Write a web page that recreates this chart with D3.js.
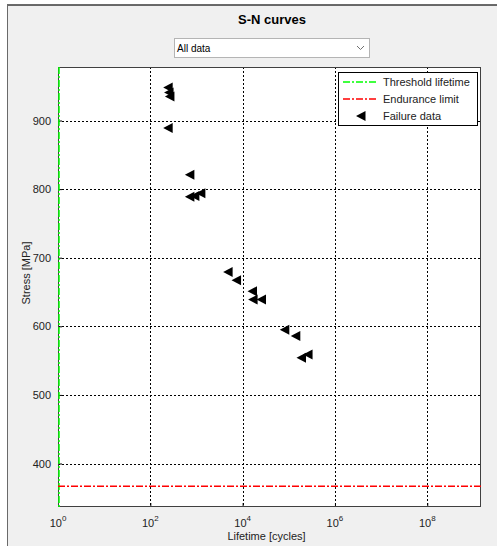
<!DOCTYPE html>
<html>
<head>
<meta charset="utf-8">
<script src="https://cdn.jsdelivr.net/npm/d3@7"></script>
<style>
  body { margin: 0; background: #fff; }
  svg { display: block; font-family: "Liberation Sans", Arial, sans-serif; }
</style>
</head>
<body>
<div class="sn-chart"></div>
<script>
// failure data
const lifetime = [244, 255, 266, 244, 720, 720, 923, 1245, 4855, 7380, 16370, 16870, 25650, 81900, 141800, 188500, 261600]
const stress = [948, 941, 935, 889, 821, 789, 790, 794, 679, 667, 651, 639, 639, 595, 586, 554, 559]

const thresholdLifetime = 1
const enduranceLimit = 367

const xTicks = [0, 2, 4, 6, 8]          // exponents of 10
const yTicks = [400, 500, 600, 700, 800, 900]
const legendLabels = ["Threshold lifetime", "Endurance limit", "Failure data"]

const W = 497, H = 546
const margin = {top: 67, right: 16, bottom: 39, left: 58},
    width = W - margin.left - margin.right,
    height = H - margin.top - margin.bottom;

const root = d3.select(".sn-chart")
    .append("svg")
        .attr("width", W)
        .attr("height", H)

// figure panel
root.append("rect")
    .attr("x", 7).attr("y", 5)
    .attr("width", W - 7).attr("height", H - 5)
    .attr("fill", "#f0f0f0")
root.append("line")
    .attr("x1", 7).attr("x2", W).attr("y1", 5).attr("y2", 5)
    .attr("stroke", "#3a3a3a").attr("stroke-width", 1.5)
root.append("line")
    .attr("x1", 7.5).attr("x2", 7.5).attr("y1", 5).attr("y2", H)
    .attr("stroke", "#6a6a6a")

root.append("text")
    .attr("x", 272).attr("y", 24)
    .attr("text-anchor", "middle")
    .attr("font-size", "13px")
    .attr("font-weight", "bold")
    .text("S-N curves")

// dropdown
const dd = root.append("g").attr("transform", "translate(174,38)")
dd.append("rect")
    .attr("x", 0.5).attr("y", 0.5).attr("width", 195).attr("height", 19)
    .attr("fill", "#fff").attr("stroke", "#b4b4b4")
dd.append("text")
    .attr("x", 3).attr("y", 14)
    .attr("font-size", "10px")
    .text("All data")
dd.append("path")
    .attr("d", "M183,8 L186.5,11.5 L190,8")
    .attr("fill", "none").attr("stroke", "#707070")

const svg = root.append("g")
    .attr("transform", "translate(" + margin.left + "," + margin.top + ")");

svg.append("rect")
    .attr("width", width).attr("height", height)
    .attr("fill", "#fff")

let x = d3.scaleLog()
    .domain([1, 1.46e9])
    .range([0, width])

let y = d3.scaleLinear()
    .domain([336.6, 978])
    .range([height, 0])

// grid
svg.selectAll("xgrid")
    .data(xTicks.slice(1))
    .enter()
    .append("line")
        .attr("x1", d => Math.round(x(Math.pow(10, d))) + 0.5)
        .attr("x2", d => Math.round(x(Math.pow(10, d))) + 0.5)
        .attr("y1", 0).attr("y2", height)
        .attr("stroke", "#000").attr("stroke-dasharray", "2,2")
svg.selectAll("ygrid")
    .data(yTicks)
    .enter()
    .append("line")
        .attr("y1", d => Math.round(y(d)) + 0.5)
        .attr("y2", d => Math.round(y(d)) + 0.5)
        .attr("x1", 0).attr("x2", width)
        .attr("stroke", "#000").attr("stroke-dasharray", "2,2")

// axes
svg.append("g")
    .attr("transform", "translate(0," + height + ")")
    .call(d3.axisBottom(x).tickValues(xTicks.map(d => Math.pow(10, d))).tickSize(-4).tickFormat(""))
    .call(g => g.select(".domain").remove())
svg.append("g")
    .call(d3.axisLeft(y).tickValues(yTicks).tickSize(-4).tickPadding(7))
    .call(g => g.select(".domain").remove())
    .selectAll("text")
        .attr("font-size", "11px")
        .attr("font-family", "Liberation Sans, Arial, sans-serif")
        .attr("fill", "#222")

const xLabels = svg.selectAll("xlab")
    .data(xTicks)
    .enter()
    .append("text")
        .attr("x", d => x(Math.pow(10, d)))
        .attr("y", height + 20)
        .attr("text-anchor", "middle")
        .attr("font-size", "11px")
        .attr("fill", "#222")
xLabels.append("tspan").text("10")
xLabels.append("tspan")
    .attr("dy", -6).attr("font-size", "8px")
    .text(d => d)

svg.append("rect")
    .attr("x", 0.5).attr("y", 0.5)
    .attr("width", width - 1).attr("height", height - 1)
    .attr("fill", "none").attr("stroke", "#404040")

// reference lines
svg.append("line")
    .attr("x1", x(thresholdLifetime) + 1).attr("x2", x(thresholdLifetime) + 1)
    .attr("y1", 0).attr("y2", height)
    .attr("stroke", "#00ff00").attr("stroke-width", 1.5)
    .attr("stroke-dasharray", "7,2,2,2")
svg.append("line")
    .attr("x1", 0).attr("x2", width)
    .attr("y1", y(enduranceLimit)).attr("y2", y(enduranceLimit))
    .attr("stroke", "#ff0000").attr("stroke-width", 1.5)
    .attr("stroke-dasharray", "7,2,2,2")

// failure markers, left-pointing triangles
const tri = "M-5,0 L4.5,-5 L4.5,5 Z"
const points = lifetime.map((d, i) => ({life: d, stress: stress[i]}))
svg.selectAll("mypoint")
    .data(points)
    .enter()
    .append("path")
        .attr("d", tri)
        .attr("transform", d => "translate(" + x(d.life) + "," + y(d.stress) + ")")
        .attr("fill", "#000")

svg.append("text")
    .attr("text-anchor", "middle")
    .attr("x", width / 2 - 3)
    .attr("y", height + 33)
    .attr("font-size", "11px")
    .attr("fill", "#222")
    .text("Lifetime [cycles]");

svg.append("text")
    .attr("text-anchor", "middle")
    .attr("y", -28)
    .attr("x", -206)
    .attr("transform", "rotate(-90)")
    .attr("font-size", "11px")
    .attr("fill", "#222")
    .text("Stress [MPa]");

// legend
const lg = svg.append("g").attr("transform", "translate(" + (338 - margin.left) + "," + (72 - margin.top) + ")")
lg.append("rect")
    .attr("x", 0.5).attr("y", 0.5).attr("width", 139).attr("height", 53)
    .attr("fill", "#fff").attr("stroke", "#000")
const legendColors = ["#00ff00", "#ff0000"]
lg.selectAll("legline")
    .data(legendColors)
    .enter()
    .append("line")
        .attr("x1", 5).attr("x2", 40)
        .attr("y1", (d, i) => 10 + i * 17).attr("y2", (d, i) => 10 + i * 17)
        .attr("stroke", d => d).attr("stroke-width", 1.5)
        .attr("stroke-dasharray", "7,2,2,2")
lg.append("path")
    .attr("d", tri)
    .attr("transform", "translate(23,44)")
lg.selectAll("legtext")
    .data(legendLabels)
    .enter()
    .append("text")
        .attr("x", 45)
        .attr("y", (d, i) => 14 + i * 17)
        .attr("font-size", "11px")
        .attr("fill", "#222")
        .text(d => d)
</script>
</body>
</html>
